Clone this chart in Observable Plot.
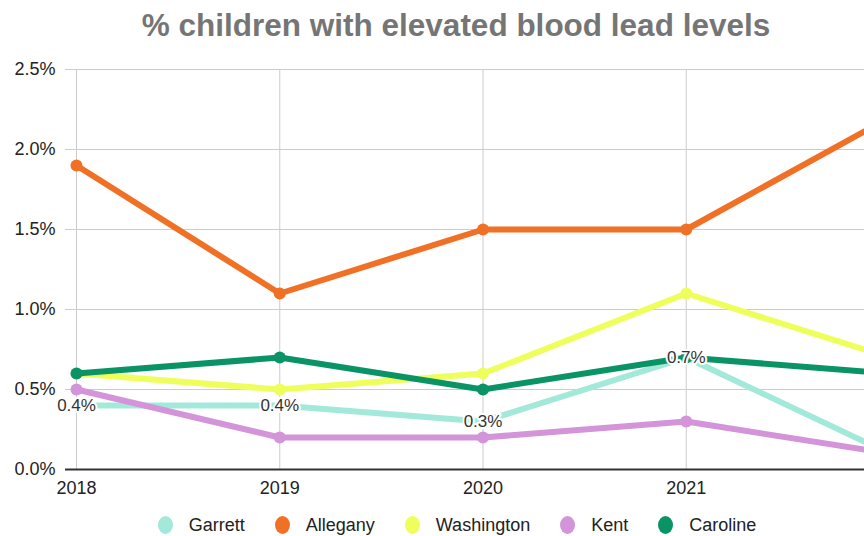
<!DOCTYPE html>
<html>
<head>
<meta charset="utf-8">
<script src="https://cdn.jsdelivr.net/npm/d3@7"></script>
<script src="https://cdn.jsdelivr.net/npm/@observablehq/plot@0.6"></script>
<style>
  html, body { margin: 0; padding: 0; background: #fff; overflow: hidden; }
  body { width: 864px; height: 536px; font-family: "Liberation Sans", Arial, sans-serif; }
  #title { height: 40px; padding-top: 10px; line-height: 30px; font-size: 31.5px; font-weight: bold;
           color: #757575; text-align: center; padding-left: 48px; white-space: nowrap; }
  #legend { display: flex; justify-content: center; align-items: center; height: 26px; margin-top: 2px;
            padding-left: 50px; font-size: 18px; color: #222; }
  .item { display: flex; align-items: center; margin: 0 15px; }
  .sw { width: 15px; height: 18px; border-radius: 50%; margin-right: 16px; }
</style>
</head>
<body>
<div id="title">% children with elevated blood lead levels</div>
<div id="chart"></div>
<div id="legend"></div>
<script>
const years = [2018, 2019, 2020, 2021, 2022];
const garrett = [0.4, 0.4, 0.3, 0.7, 0.1];
const allegany = [1.9, 1.1, 1.5, 1.5, 2.2];
const washington = [0.6, 0.5, 0.6, 1.1, 0.7];
const kent = [0.5, 0.2, 0.2, 0.3, 0.1];
const caroline = [0.6, 0.7, 0.5, 0.7, 0.6];
const seriesNames = ["Garrett", "Allegany", "Washington", "Kent", "Caroline"];
const seriesValues = [garrett, allegany, washington, kent, caroline];
const seriesColors = ["#a3e9d9", "#f07125", "#eeff5c", "#d394d9", "#0a9466"];
const yTicks = [0, 0.5, 1.0, 1.5, 2.0, 2.5];
const xTicks = [2018, 2019, 2020, 2021];
const labeledSeries = "Garrett";

const rows = seriesNames.flatMap((name, i) =>
  years.map((year, j) => ({series: name, year, value: seriesValues[i][j] / 100, color: seriesColors[i]})));

const marks = [
  Plot.gridY(yTicks.map(d => d / 100), {stroke: "#cccccc", strokeOpacity: 1}),
  Plot.gridX(xTicks, {stroke: "#cccccc", strokeOpacity: 1}),
  Plot.ruleY([0], {stroke: "#333", strokeWidth: 2}),
  Plot.axisY(yTicks.map(d => d / 100), {tickSize: 0, tickPadding: 10, tickFormat: d3.format(".1%"), fontSize: 18, label: null}),
  Plot.axisX(xTicks, {tickSize: 0, tickPadding: 12, tickFormat: d => String(d), fontSize: 18, label: null})
];
seriesNames.forEach((name, i) => {
  const data = rows.filter(r => r.series === name);
  marks.push(Plot.line(data, {x: "year", y: "value", stroke: seriesColors[i], strokeWidth: 6, strokeLinejoin: "round", clip: true}));
  if (name !== labeledSeries) {
    marks.push(Plot.dot(data, {x: "year", y: "value", r: 6, fill: seriesColors[i], clip: true}));
  }
});
marks.push(Plot.text(rows.filter(r => r.series === labeledSeries && xTicks.includes(r.year)), {
  x: "year", y: "value", text: d => d3.format(".1%")(d.value), fontSize: 17, fill: "#333",
  stroke: "white", strokeWidth: 4
}));

const chart = Plot.plot({
  width: 864,
  height: 460,
  marginTop: 19,
  marginBottom: 41,
  marginLeft: 65,
  marginRight: 0,
  style: {fontFamily: "'Liberation Sans', Arial, sans-serif", color: "#222", background: "white", overflow: "hidden"},
  x: {type: "linear", domain: [2018, 2022], range: [76, 889], axis: null},
  y: {domain: [0, 0.025], axis: null},
  marks
});
document.getElementById("chart").appendChild(chart);

const legend = document.getElementById("legend");
seriesNames.forEach((name, i) => {
  const item = document.createElement("div");
  item.className = "item";
  const sw = document.createElement("span");
  sw.className = "sw";
  sw.style.background = seriesColors[i];
  const label = document.createElement("span");
  label.textContent = name;
  item.appendChild(sw);
  item.appendChild(label);
  legend.appendChild(item);
});
</script>
</body>
</html>
